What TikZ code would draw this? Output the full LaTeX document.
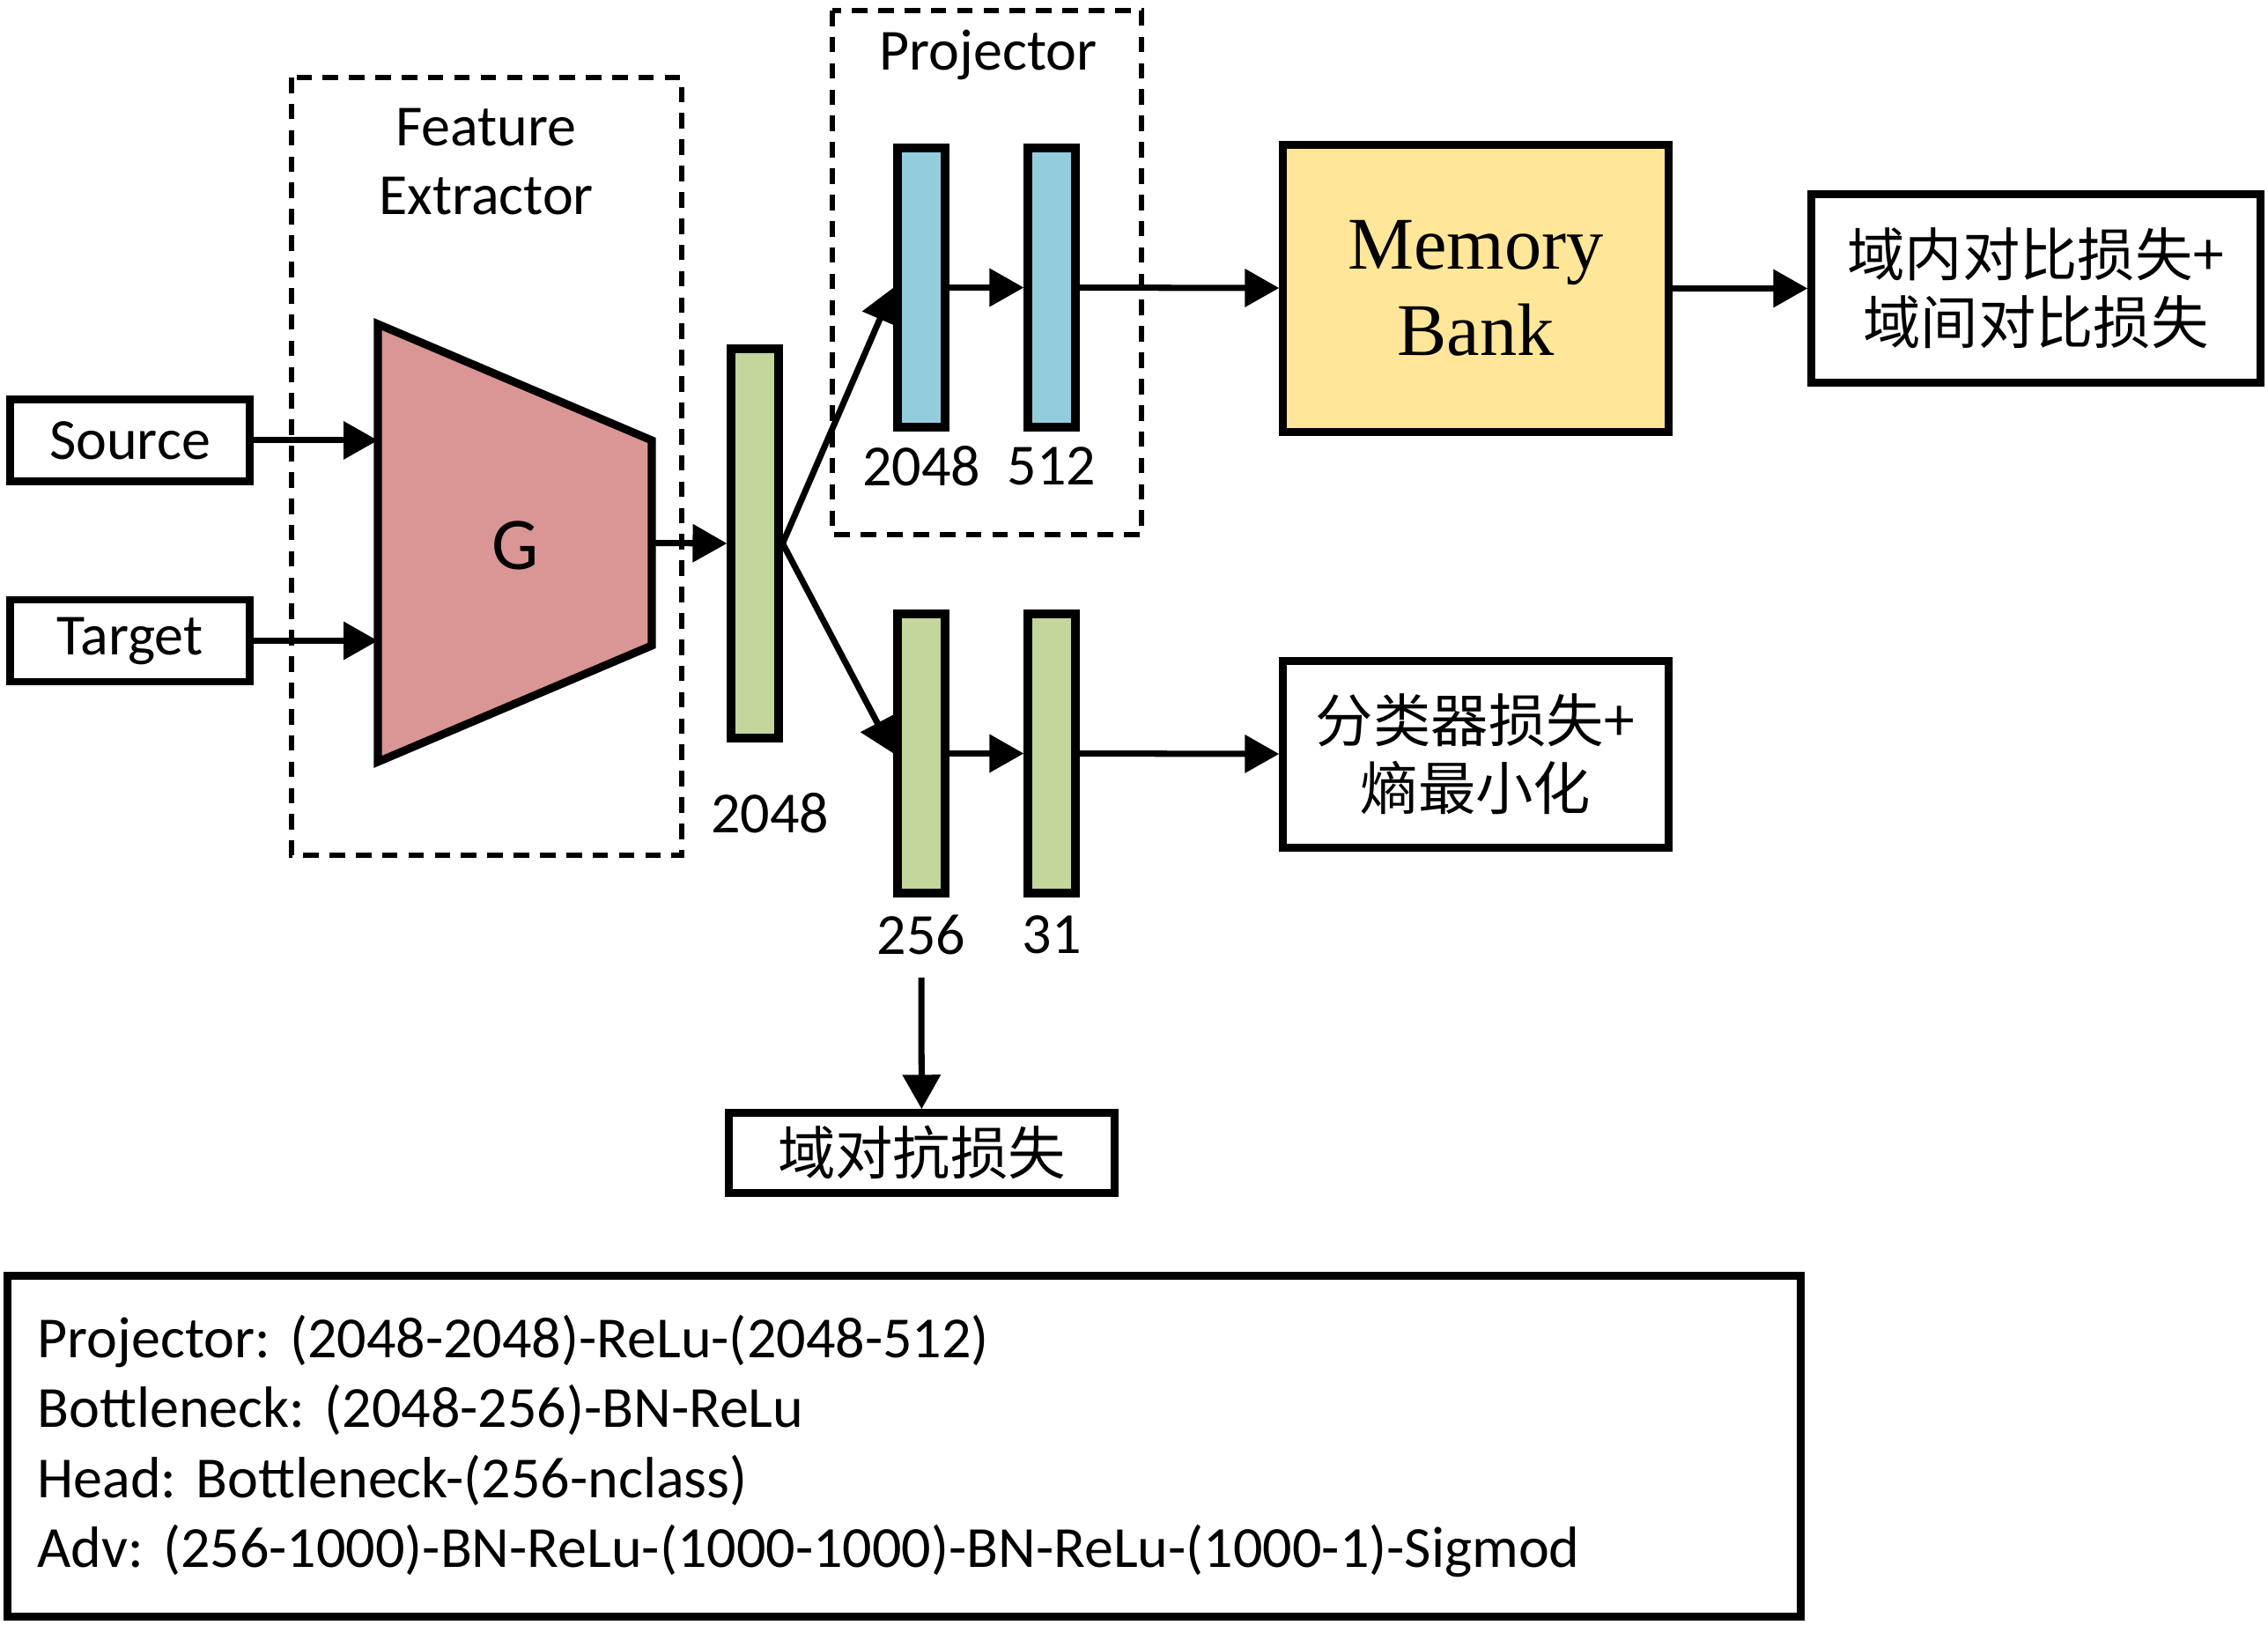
\documentclass[tikz,border=0pt]{standalone}
\usepackage{fontspec}
\setmainfont{Carlito}
\newfontfamily\cjk{Noto Sans CJK SC}
\newfontfamily\tms{Liberation Serif}
\usetikzlibrary{arrows.meta,positioning}
\definecolor{gpink}{HTML}{D99694}
\definecolor{ggreen}{HTML}{C3D69B}
\definecolor{gblue}{HTML}{93CDDD}
\definecolor{gyellow}{HTML}{FFE699}
\frenchspacing

\begin{document}
\begin{tikzpicture}[-{Triangle[length=3.9mm,width=4.2mm]},line width=2pt,node distance={14.8mm},
  box/.style = {draw, rectangle, line width=2.4pt, inner sep=0pt, font=\fontsize{18.8}{22.5}\selectfont},
  bar/.style = {draw, rectangle, line width=2.6pt, minimum width=5.4mm, inner sep=0pt},
  grp/.style = {-, dash pattern=on 5pt off 3.5pt, line width=1.9pt},
  lbl/.style = {inner sep=0pt, font=\fontsize{18.8}{22.2}\selectfont, align=center},
  zh/.style = {font=\cjk\fontsize{18.6}{22}\selectfont, align=center}]
\useasboundingbox (0,0) rectangle (25.75,18.44);

% groups
\draw[grp] (3.31,17.56) rectangle (7.74,8.73);
\draw[grp] (9.45,18.32) rectangle (12.96,12.37);
\node[lbl] (fe) at (5.52,16.60) {Feature\\Extractor};
\node[lbl] (pj) at (11.22,17.82) {Projector};

% inputs
\node[box, minimum width=27.2mm, minimum height=9.3mm] (src) at (1.475,13.44) {Source};
\node[box, minimum width=27.2mm, minimum height=9.3mm] (tgt) at (1.475,11.165) {Target};

% backbone
\draw[-, line width=2.6pt, fill=gpink] (4.29,14.76) -- (7.40,13.44) -- (7.40,11.11) -- (4.29,9.79) -- cycle;
\coordinate (gin) at (4.29,12.275);
\coordinate (gout) at (7.40,12.275);
\node[inner sep=0pt, font=\fontsize{24}{28}\selectfont] (G) at (5.85,12.25) {G};

% feature and heads
\node[bar, fill=ggreen, minimum height=44.2mm] (f) at (8.57,12.27) {};
\node[bar, fill=gblue, minimum height=31.7mm] (p1) at (10.46,15.175) {};
\node[bar, fill=gblue, minimum height=31.7mm] (p2) [right of=p1] {};
\node[bar, fill=ggreen, minimum height=31.7mm] (b1) at (10.46,9.885) {};
\node[bar, fill=ggreen, minimum height=31.7mm] (b2) [right of=b1] {};

\node[lbl] (nf) at (8.74,9.21) {2048};
\node[lbl] (np1) at (10.46,13.15) {2048};
\node[lbl] (np2) at (11.94,13.15) {512};
\node[lbl] (nb1) at (10.46,7.83) {256};
\node[lbl] (nb2) at (11.94,7.83) {31};

% memory and losses
\node[box, fill=gyellow, minimum width=43.8mm, minimum height=32.6mm, align=center,
  font=\tms\fontsize{24}{27.9}\selectfont] (mb) at (16.755,15.165) {Memory\\Bank};
\node[box, zh, minimum width=51mm, minimum height=21.4mm] (l1) at (23.115,15.165) {域内对比损失+\\域间对比损失};
\node[box, zh, minimum width=43.8mm, minimum height=21.2mm] (l2) at (16.755,9.875) {分类器损失+\\熵最小化};
\node[box, zh, minimum width=43.8mm, minimum height=9.1mm] (l3) at (10.465,5.35) {域对抗损失};
\coordinate (adv) at (10.46,7.34);

% settings
\node[box, minimum width=203.6mm, minimum height=38.7mm, inner xsep=3.4mm, text width=196.8mm,
  align=left, font=\fontsize{18.8}{22.5}\selectfont] (cfg) at (10.265,2.02)
  {Projector: (2048-2048)-ReLu-(2048-512)\\
   Bottleneck: (2048-256)-BN-ReLu\\
   Head: Bottleneck-(256-nclass)\\
   Adv: (256-1000)-BN-ReLu-(1000-1000)-BN-ReLu-(1000-1)-Sigmod};

\path
    % into G
    (src.east) edge (src.east -| gin)
    (tgt.east) edge (tgt.east -| gin)
    (gout) edge (f.west)
    % projector branch
    (f.east) edge (p1.west)
    (p1) edge (p2)
    (p2) edge (mb)
    (mb) edge (l1)
    % bottleneck branch
    (f.east) edge (b1.west)
    (b1) edge (b2)
    (b2) edge (l2)
    (adv) edge (l3);
\end{tikzpicture}
\end{document}
